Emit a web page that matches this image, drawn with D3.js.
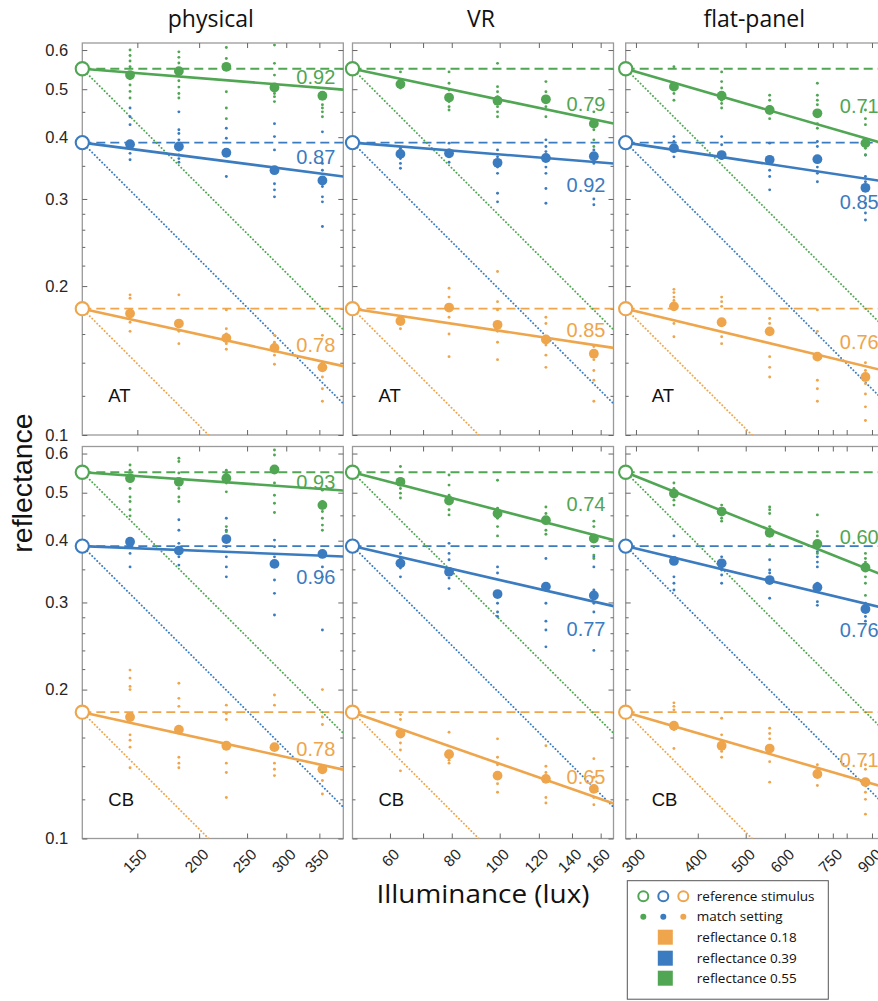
<!DOCTYPE html>
<html><head><meta charset="utf-8">
<script src="https://cdn.jsdelivr.net/npm/d3@7"></script>
<style>body{margin:0;background:#fff} svg{display:block}</style>
</head><body>
<svg id="chart" width="878" height="1001"></svg>
<script>
// ---------------- DATA ----------------
const devices = ["physical", "VR", "flat-panel"];
const subjects = ["AT", "CB"];
const reflectances = [0.18, 0.39, 0.55];            // orange, blue, green
const refIllum = [116.1, 50.4, 286];                  // reference illuminance per device
const illumPhysical = [145, 182, 227, 284, 355];
const illumVR = [63, 79, 99, 124, 155];
const illumFlat = [358, 447, 559, 698, 873];
const xTicksPhysical = [150, 200, 250, 300, 350];
const xLabelsPhysical = [150, 200, 250, 300, 350];
const xTicksVR = [60, 70, 80, 100, 120, 140, 160];
const xLabelsVR = [60, 80, 100, 120, 140, 160];
const xTicksFlat = [300, 400, 500, 600, 700, 750, 800, 900];
const xLabelsFlat = [300, 400, 500, 600, 750, 900];
const yTicks = [0.1, 0.2, 0.3, 0.4, 0.5, 0.6];
const yMinorTicks = [0.12, 0.14, 0.16, 0.18, 0.22, 0.24, 0.26, 0.28, 0.35, 0.45, 0.55];

// constancy index [device][orange, blue, green]
const ciAT = [[0.78, 0.87, 0.92], [0.85, 0.92, 0.79], [0.76, 0.85, 0.71]];
const ciCB = [[0.78, 0.96, 0.93], [0.65, 0.77, 0.74], [0.71, 0.76, 0.60]];

// mean match settings [orange, blue, green] x 5 illuminance levels
const meansATphysical = [[0.176,0.168,0.157,0.150,0.137],[0.387,0.383,0.372,0.343,0.327],[0.534,0.544,0.555,0.504,0.485]];
const meansATvr       = [[0.170,0.181,0.167,0.156,0.146],[0.370,0.371,0.355,0.363,0.366],[0.512,0.481,0.474,0.477,0.426]];
const meansATflat     = [[0.182,0.169,0.162,0.144,0.131],[0.380,0.368,0.360,0.361,0.316],[0.506,0.485,0.454,0.447,0.389]];
const meansCBphysical = [[0.176,0.166,0.154,0.153,0.138],[0.398,0.382,0.403,0.359,0.376],[0.535,0.526,0.535,0.557,0.472]];
const meansCBvr       = [[0.163,0.148,0.134,0.132,0.126],[0.360,0.346,0.312,0.323,0.310],[0.526,0.482,0.454,0.440,0.404]];
const meansCBflat     = [[0.169,0.154,0.152,0.135,0.130],[0.364,0.360,0.333,0.322,0.291],[0.498,0.458,0.415,0.394,0.353]];

// individual match settings [orange, blue, green][level][...]
const dotsATphysical = [
  [[0.192,0.189,0.173,0.169,0.162],[0.192,0.170,0.162,0.153],[0.179,0.164,0.160,0.153,0.149],[0.159,0.154,0.145,0.139],[0.159,0.140,0.131,0.124,0.117]],
  [[0.458,0.440,0.424,0.389,0.380,0.371,0.360],[0.450,0.414,0.407,0.395,0.377,0.368,0.362,0.356],[0.417,0.398,0.371,0.333],[0.426,0.401,0.377,0.343,0.322,0.313,0.303],[0.410,0.354,0.343,0.318,0.303,0.296,0.264]],
  [[0.600,0.585,0.570,0.555,0.540,0.525,0.510,0.495,0.480],[0.595,0.580,0.565,0.550,0.535,0.520,0.505,0.490,0.480],[0.607,0.577,0.494,0.458,0.436],[0.614,0.564,0.534,0.502,0.490,0.483,0.472],[0.486,0.479,0.465,0.458,0.450,0.440]]
];
const dotsATvr = [
  [[0.171,0.168,0.164],[0.198,0.190,0.173,0.160,0.144],[0.214,0.186,0.179,0.162,0.154,0.142],[0.173,0.168,0.152,0.145,0.137],[0.151,0.142,0.135,0.129,0.117]],
  [[0.380,0.362,0.354,0.346],[0.389,0.377,0.356],[0.377,0.365,0.348,0.338,0.308,0.296],[0.395,0.383,0.374,0.348,0.338,0.315,0.294],[0.377,0.354,0.300,0.292]],
  [[0.542,0.522,0.511,0.503],[0.542,0.514,0.498,0.483,0.472,0.461,0.454],[0.564,0.506,0.494,0.483,0.472,0.461,0.450,0.440],[0.518,0.494,0.475,0.461,0.440],[0.450,0.430,0.414,0.395,0.383]]
];
const dotsATflat = [
  [[0.197,0.194,0.190,0.187,0.168,0.158],[0.190,0.186,0.182,0.158,0.153],[0.172,0.168,0.144,0.137,0.131],[0.179,0.162,0.129,0.124,0.117],[0.140,0.135,0.127,0.121,0.114,0.107]],
  [[0.401,0.392,0.365],[0.401,0.386,0.362],[0.389,0.354,0.343,0.333,0.313],[0.392,0.383,0.348,0.338,0.325],[0.368,0.333,0.325,0.294,0.281,0.272]],
  [[0.555,0.514,0.490,0.475],[0.542,0.518,0.503,0.475,0.468,0.458],[0.486,0.475,0.461,0.447,0.436],[0.514,0.486,0.475,0.465,0.426,0.417],[0.454,0.436,0.424,0.380,0.368]]
];
const dotsCBphysical = [
  [[0.219,0.211,0.203,0.200,0.162,0.158,0.153,0.139],[0.206,0.192,0.185,0.146,0.142,0.139],[0.186,0.179,0.174,0.142,0.136,0.121],[0.195,0.186,0.142,0.138,0.134],[0.200,0.176,0.170,0.131,0.123]],
  [[0.401,0.377,0.354],[0.441,0.420,0.395,0.371,0.357],[0.444,0.420,0.389,0.371,0.354,0.338],[0.401,0.389,0.371,0.333,0.313,0.283],[0.371,0.354,0.338,0.264]],
  [[0.569,0.555,0.530,0.510,0.490,0.480,0.462,0.449],[0.587,0.578,0.548,0.510,0.490,0.480],[0.555,0.548,0.523,0.502,0.427,0.417],[0.610,0.596,0.523,0.494,0.476,0.456],[0.506,0.480,0.458,0.444,0.430,0.420]]
];
const dotsCBvr = [
  [[0.178,0.174,0.156,0.151,0.137],[0.164,0.144,0.142],[0.159,0.146,0.141,0.129,0.124],[0.154,0.140,0.136,0.121,0.118],[0.145,0.133,0.121,0.117]],
  [[0.377,0.368,0.352,0.338],[0.395,0.377,0.366,0.336,0.320],[0.354,0.344,0.299,0.287,0.281],[0.368,0.299,0.275,0.264,0.244],[0.371,0.354,0.318,0.299,0.287,0.240]],
  [[0.565,0.510,0.499,0.488],[0.543,0.518,0.494,0.462,0.451],[0.530,0.465,0.444,0.427,0.409],[0.468,0.454,0.420,0.412],[0.438,0.427,0.389,0.374,0.368]]
];
const dotsCBflat = [
  [[0.188,0.185,0.182,0.166,0.152],[0.175,0.162,0.157,0.150,0.146],[0.167,0.163,0.159,0.143,0.130],[0.141,0.128],[0.141,0.138,0.124,0.120,0.112]],
  [[0.409,0.338,0.328,0.318],[0.371,0.349,0.341,0.328],[0.366,0.349,0.344,0.306],[0.380,0.371,0.362,0.354,0.328,0.301,0.296],[0.299,0.281,0.275]],
  [[0.523,0.510,0.483,0.472],[0.472,0.444,0.438],[0.468,0.462,0.454,0.427,0.392],[0.451,0.417,0.409,0.386,0.377],[0.377,0.368,0.362,0.338,0.328,0.310]]
];
const legendLabels = ["reference stimulus", "match setting", "reflectance 0.18", "reflectance 0.39", "reflectance 0.55"];

// ---------------- LAYOUT / STYLE ----------------
const colors = ["#eea54b", "#3b7bbf", "#50a653"];
const panelLeft = [82.3, 352.5, 625.7];
const panelTop = [43, 446.5];
const PW = 261, PH = 392;
const xSpan = 3.37;
// CI label vertical offsets (px) from fitted line at right edge
const ciDyAT = [[-21, -19.5, -13], [-18, 21.6, -19.5], [-29.6, 20, -39]];
const ciDyCB = [[-21, 20, -8.7], [-27, 23, -36.8], [-28, 20.6, -40]];

const illumByDevice = [illumPhysical, illumVR, illumFlat];
const xTicksByDevice = [xTicksPhysical, xTicksVR, xTicksFlat];
const xLabelsByDevice = [xLabelsPhysical, xLabelsVR, xLabelsFlat];
const means = [[meansATphysical, meansATvr, meansATflat], [meansCBphysical, meansCBvr, meansCBflat]];
const dots = [[dotsATphysical, dotsATvr, dotsATflat], [dotsCBphysical, dotsCBvr, dotsCBflat]];
const cis = [ciAT, ciCB];
const ciDy = [ciDyAT, ciDyCB];

const svg = d3.select("#chart");
const FONT = "'Liberation Sans', Arial, Helvetica, sans-serif";
const FONT2 = "'Open Sans', 'Noto Sans', sans-serif";

const y = d3.scaleLog().domain([0.1, 0.62]).range([PH, 0]);

subjects.forEach((subj, si) => {
  devices.forEach((dev, di) => {
    const ref = refIllum[di];
    const x = d3.scaleLog().domain([ref, ref * xSpan]).range([0, PW]);
    const eMax = ref * xSpan;
    const g = svg.append("g").attr("transform", `translate(${panelLeft[di]},${panelTop[si]})`);
    const clipId = `clip-${si}-${di}`;
    g.append("clipPath").attr("id", clipId).append("rect").attr("width", PW).attr("height", PH);

    // frame
    g.append("rect").attr("width", PW).attr("height", PH).attr("fill", "none")
      .attr("stroke", "#9a9a9a").attr("stroke-width", 1.3);

    // axes (ticks inward)
    const styleAxis = sel => { sel.select(".domain").remove(); sel.selectAll(".tick line").attr("stroke", "#666").attr("stroke-width", 1); };
    const xb = g.append("g").attr("transform", `translate(0,${PH})`)
      .call(d3.axisBottom(x).tickValues(xTicksByDevice[di]).tickSize(-5)
        .tickFormat(d => (si === 1 && xLabelsByDevice[di].includes(d)) ? String(d) : ""));
    styleAxis(xb);
    xb.selectAll("text").attr("x", 0).attr("y", 0).attr("dy", 0)
      .attr("text-anchor", "end").attr("transform", "translate(10,17) rotate(-45)")
      .attr("font-family", FONT).attr("font-size", 15.5).attr("fill", "#262626");
    const xt = g.append("g").call(d3.axisTop(x).tickValues(xTicksByDevice[di]).tickSize(-5).tickFormat(""));
    styleAxis(xt);

    const yl = g.append("g").call(d3.axisLeft(y).tickValues(yTicks).tickSize(-5)
      .tickFormat(d => di === 0 ? d3.format(".1f")(d) : ""));
    styleAxis(yl);
    yl.selectAll("text").attr("x", -14).attr("font-family", FONT).attr("font-size", 16.5).attr("fill", "#262626");
    const ylm = g.append("g").call(d3.axisLeft(y).tickValues(yMinorTicks).tickSize(-3).tickFormat(""));
    styleAxis(ylm);
    const yr = g.append("g").attr("transform", `translate(${PW},0)`)
      .call(d3.axisRight(y).tickValues(yTicks).tickSize(-5).tickFormat(""));
    styleAxis(yr);
    const yrm = g.append("g").attr("transform", `translate(${PW},0)`)
      .call(d3.axisRight(y).tickValues(yMinorTicks).tickSize(-3).tickFormat(""));
    styleAxis(yrm);

    const plot = g.append("g").attr("clip-path", `url(#${clipId})`);
    const line = d3.line().x(d => x(d[0])).y(d => y(d[1]));

    reflectances.forEach((r, ri) => {
      const col = colors[ri];
      const ci = cis[si][di][ri];
      // dashed: perfect constancy
      plot.append("path").datum([[ref, r], [eMax, r]]).attr("d", line)
        .attr("stroke", col).attr("stroke-width", 1.8).attr("stroke-dasharray", "9,5").attr("fill", "none");
      // dotted: zero constancy
      plot.append("path").datum([[ref, r], [eMax, r * ref / eMax]]).attr("d", line)
        .attr("stroke", col).attr("stroke-width", 1.9).attr("stroke-dasharray", "0.1,3.4")
        .attr("stroke-linecap", "round").attr("fill", "none");
    });
    reflectances.forEach((r, ri) => {
      const col = colors[ri];
      const ci = cis[si][di][ri];
      const fit = e => r * Math.pow(e / ref, -(1 - ci));
      plot.append("path").datum([[ref, r], [eMax, fit(eMax)]]).attr("d", line)
        .attr("stroke", col).attr("stroke-width", 2.6).attr("fill", "none");
    });
    reflectances.forEach((r, ri) => {
      const col = colors[ri];
      const lv = illumByDevice[di];
      const pts = [];
      dots[si][di][ri].forEach((arr, li) => arr.forEach(v => pts.push([lv[li], v])));
      plot.selectAll(null).data(pts).join("circle")
        .attr("cx", d => x(d[0])).attr("cy", d => y(d[1])).attr("r", 1.45).attr("fill", col);
      plot.selectAll(null).data(means[si][di][ri].map((v, li) => [lv[li], v])).join("circle")
        .attr("cx", d => x(d[0])).attr("cy", d => y(d[1])).attr("r", 4.9).attr("fill", col);
    });
    // CI labels
    reflectances.forEach((r, ri) => {
      const ci = cis[si][di][ri];
      const fitEnd = r * Math.pow(xSpan, -(1 - ci));
      g.append("text").attr("x", PW - 8).attr("y", y(fitEnd) + ciDy[si][di][ri]).attr("dy", "0.36em")
        .attr("text-anchor", "end").attr("font-family", FONT).attr("font-size", 20)
        .attr("fill", colors[ri]).text(ci.toFixed(2));
    });
    // reference stimulus circles
    reflectances.forEach((r, ri) => {
      g.append("circle").attr("cx", x(ref)).attr("cy", y(r)).attr("r", 6.6)
        .attr("fill", "#fff").attr("stroke", colors[ri]).attr("stroke-width", 2.1);
    });
    // subject label
    g.append("text").attr("x", 26).attr("y", PH - 33).attr("font-family", FONT).attr("font-size", 18.5)
      .attr("fill", "#111").text(subj);
    // device title
    if (si === 0) {
      svg.append("text").attr("x", panelLeft[di] + PW / 2 - 2).attr("y", 27)
        .attr("text-anchor", "middle").attr("font-family", FONT2).attr("font-size", 23)
        .attr("fill", "#111").text(dev);
    }
  });
});

// axis titles
svg.append("text").attr("transform", "translate(32,483) rotate(-90)").attr("text-anchor", "middle")
  .attr("font-family", FONT).attr("font-size", 28.5).attr("fill", "#111").text("reflectance");
svg.append("text").attr("x", 483).attr("y", 903).attr("text-anchor", "middle")
  .attr("font-family", FONT2).attr("font-size", 26).attr("textLength", 213).attr("lengthAdjust", "spacingAndGlyphs")
  .attr("fill", "#111").text("Illuminance (lux)");

// legend
const lg = svg.append("g").attr("transform", "translate(627.3,880.7)");
lg.append("rect").attr("width", 201).attr("height", 118.5).attr("fill", "#fff").attr("stroke", "#555").attr("stroke-width", 1);
const lgX = [16, 36, 56];
const rowY = [15.5, 36, 56.5, 77.5, 97.5];
[2, 1, 0].forEach((ci, k) => {
  lg.append("circle").attr("cx", lgX[k]).attr("cy", rowY[0]).attr("r", 5).attr("fill", "#fff")
    .attr("stroke", colors[ci]).attr("stroke-width", 2);
  lg.append("circle").attr("cx", lgX[k]).attr("cy", rowY[1]).attr("r", 3).attr("fill", colors[ci]);
});
[0, 1, 2].forEach(ci => {
  lg.append("rect").attr("x", 30.5).attr("y", rowY[2 + ci] - 7.5).attr("width", 15).attr("height", 15).attr("fill", colors[ci]);
});
legendLabels.forEach((t, i) => {
  lg.append("text").attr("x", 69.5).attr("y", rowY[i]).attr("dy", "0.35em").attr("font-family", FONT2)
    .attr("font-size", 13.5).attr("fill", "#111").text(t);
});
</script>
</body></html>
